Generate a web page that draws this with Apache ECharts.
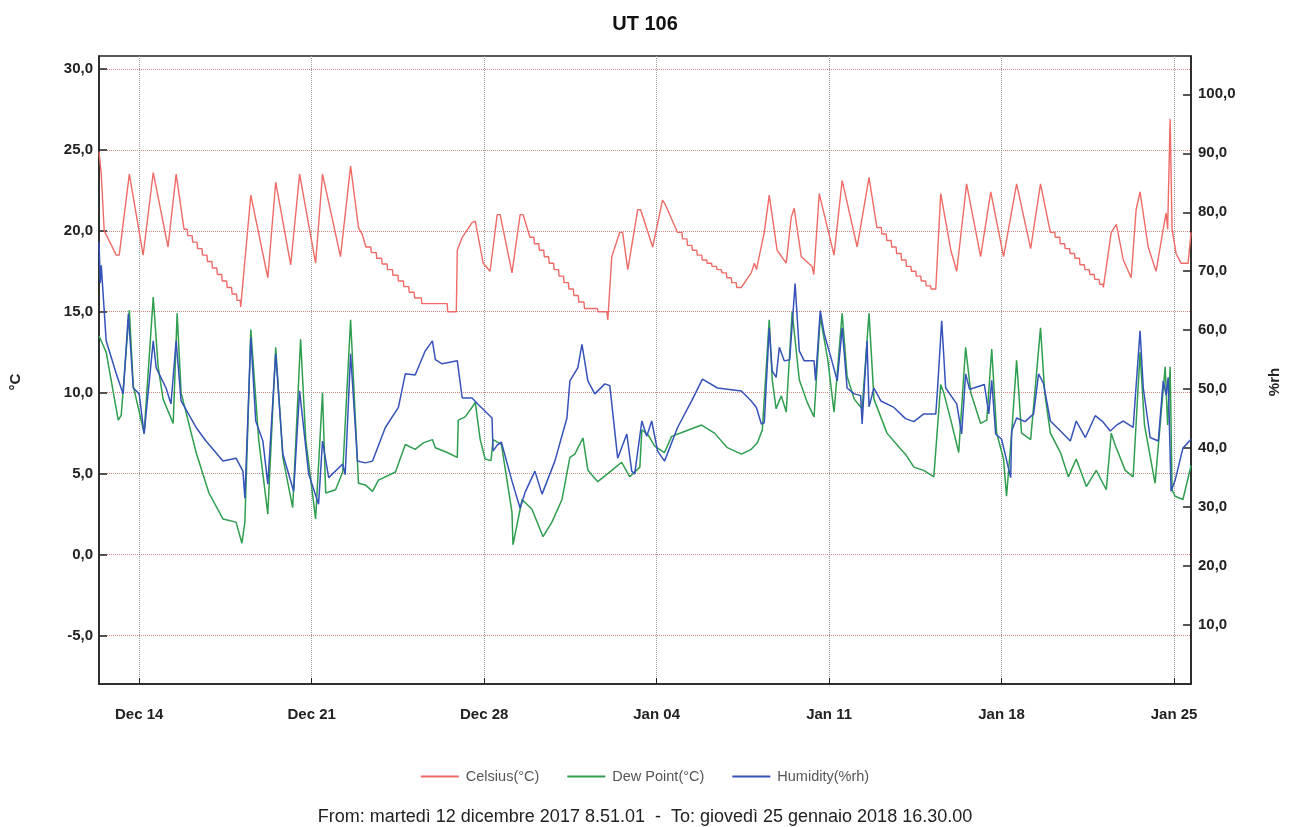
<!DOCTYPE html>
<html>
<head>
<meta charset="utf-8">
<script src="https://cdn.jsdelivr.net/npm/echarts@6/dist/echarts.min.js"></script>
<style>
html,body{margin:0;padding:0;background:#fff;}
#chart{width:1290px;height:827px;}
</style>
</head>
<body>
<div id="chart"></div>
<script>
// Time origin: 2017-12-12 00:00 ; times given in days from that midnight
const DAY0 = Date.UTC(2017, 11, 12);
const START = Date.UTC(2017, 11, 12, 8, 51, 1);
const END = Date.UTC(2018, 0, 25, 16, 30, 0);

const chartTitle = 'UT 106';
const footerText = 'From: martedì 12 dicembre 2017 8.51.01  -  To: giovedì 25 gennaio 2018 16.30.00';
const seriesNames = ['Celsius(°C)', 'Dew Point(°C)', 'Humidity(%rh)'];
const weekTicks = ['2017-12-14', '2017-12-21', '2017-12-28', '2018-01-04', '2018-01-11', '2018-01-18', '2018-01-25'];
const tempTicks = [-5, 0, 5, 10, 15, 20, 25, 30];
const rhTicks = [10, 20, 30, 40, 50, 60, 70, 80, 90, 100];
const monthNames = ['Jan','Feb','Mar','Apr','May','Jun','Jul','Aug','Sep','Oct','Nov','Dec'];

const celsius = [[0.37,24.9],[0.46,23.5],[0.58,20.0],[1.07,18.5],[1.19,18.5],[1.60,23.5],[2.16,18.5],[2.57,23.6],[3.17,19.0],[3.50,23.5],[3.82,20.1],
[3.95,20.1],[3.97,19.7],[4.15,19.7],[4.17,19.3],[4.35,19.3],[4.37,18.9],[4.55,18.9],[4.57,18.5],[4.75,18.5],[4.77,18.1],[4.95,18.1],[4.97,17.7],[5.15,17.7],[5.17,17.3],[5.35,17.3],[5.37,16.9],[5.55,16.9],[5.57,16.5],[5.75,16.5],[5.77,16.1],[5.95,16.1],[5.97,15.7],[6.10,15.7],[6.12,15.3],[6.17,15.3],
[6.53,22.2],[7.22,17.1],[7.54,23.0],[8.15,17.9],[8.51,23.5],[9.16,18.0],[9.44,23.5],[10.17,18.4],[10.58,24.0],[10.90,20.2],[11.05,19.8],[11.20,19.0],
[11.40,19.0],[11.42,18.65],[11.62,18.65],[11.64,18.3],[11.84,18.3],[11.86,17.95],[12.06,17.95],[12.08,17.6],[12.28,17.6],[12.30,17.25],[12.50,17.25],[12.52,16.9],[12.72,16.9],[12.74,16.55],[12.94,16.55],[12.96,16.2],[13.16,16.2],[13.18,15.85],[13.45,15.85],[13.47,15.5],[14.50,15.5],[14.52,15.0],[14.87,15.0],
[14.91,18.8],[15.11,19.6],[15.51,20.5],[15.64,20.6],[15.96,18.0],[16.24,17.5],[16.53,21.0],[16.65,21.0],[17.13,17.4],[17.46,21.0],[17.58,21.0],[17.86,19.6],
[18.02,19.6],[18.04,19.2],[18.22,19.2],[18.24,18.8],[18.42,18.8],[18.44,18.4],[18.62,18.4],[18.64,18.0],[18.82,18.0],[18.84,17.6],[19.02,17.6],[19.04,17.2],[19.22,17.2],[19.24,16.8],[19.42,16.8],[19.44,16.4],[19.62,16.4],[19.64,16.0],[19.82,16.0],[19.84,15.6],[20.05,15.6],[20.07,15.2],[20.60,15.2],[20.62,15.0],[20.98,15.0],[21.02,14.5],
[21.18,18.4],[21.50,19.9],[21.62,19.9],[21.83,17.6],[22.23,21.3],[22.35,21.3],[22.84,19.0],[23.24,21.9],[23.36,21.6],[23.85,19.9],
[24.03,19.9],[24.05,19.5],[24.23,19.5],[24.25,19.1],[24.43,19.1],[24.45,18.8],[24.63,18.8],[24.65,18.5],[24.83,18.5],[24.85,18.2],[25.03,18.2],[25.05,18.0],[25.23,18.0],[25.25,17.8],[25.43,17.8],[25.45,17.6],[25.63,17.6],[25.65,17.4],[25.83,17.4],[25.85,17.1],[26.03,17.1],[26.05,16.8],[26.23,16.8],[26.25,16.5],[26.44,16.5],
[26.84,17.4],[26.97,18.0],[27.05,17.6],[27.37,19.9],[27.57,22.2],[27.89,18.8],[28.26,18.0],[28.46,20.8],[28.58,21.4],[28.87,18.4],[29.31,17.8],[29.38,17.3],[29.60,22.3],[30.20,18.5],[30.53,23.1],[31.14,19.0],[31.62,23.3],[31.94,20.2],
[32.12,20.2],[32.14,19.8],[32.32,19.8],[32.34,19.4],[32.52,19.4],[32.54,19.0],[32.72,19.0],[32.74,18.6],[32.92,18.6],[32.94,18.2],[33.12,18.2],[33.14,17.8],[33.32,17.8],[33.34,17.5],[33.52,17.5],[33.54,17.2],[33.72,17.2],[33.74,16.9],[33.92,16.9],[33.94,16.6],[34.12,16.6],[34.14,16.4],[34.33,16.4],
[34.53,22.3],[34.60,22.3],[34.94,18.8],[35.18,17.5],[35.58,22.9],[36.15,18.4],[36.56,22.4],[37.08,18.4],[37.61,22.9],[38.18,18.9],[38.58,22.9],[38.98,19.9],
[39.16,19.9],[39.18,19.6],[39.36,19.6],[39.38,19.2],[39.56,19.2],[39.58,18.9],[39.76,18.9],[39.78,18.6],[39.96,18.6],[39.98,18.3],[40.16,18.3],[40.18,17.9],[40.36,17.9],[40.38,17.6],[40.56,17.6],[40.58,17.3],[40.76,17.3],[40.78,17.0],[40.96,17.0],[40.98,16.7],[41.11,16.7],[41.13,16.5],
[41.45,19.9],[41.66,20.4],[41.94,18.2],[42.26,17.1],[42.46,21.3],[42.62,22.4],[42.95,19.0],[43.27,17.5],[43.56,20.1],[43.68,21.1],[43.74,20.1],[43.84,26.9],[43.88,27.0],[43.92,20.1],[44.08,18.6],[44.28,18.0],[44.57,18.0],[44.69,19.9]];

const dewPoint = [[0.37,13.5],[0.66,12.5],[1.15,8.3],[1.27,8.6],[1.60,15.1],[1.76,10.4],[2.20,7.5],[2.57,15.9],[2.77,11.6],[2.97,9.6],[3.38,8.1],[3.54,14.9],[3.70,10.0],[4.31,6.3],[4.83,3.8],[5.40,2.2],[5.93,2.0],[6.17,0.7],[6.29,2.0],[6.53,13.9],[6.85,7.1],[7.22,2.5],[7.54,12.8],[7.83,6.0],[8.23,2.9],[8.55,13.3],[8.76,7.1],[9.16,2.2],[9.44,10.0],[9.57,3.8],[9.97,4.0],[10.26,5.1],[10.58,14.5],[10.90,4.4],[11.18,4.3],[11.47,3.9],[11.71,4.6],[12.40,5.1],[12.80,6.8],[13.20,6.5],[13.53,6.9],[13.90,7.1],[14.02,6.6],[14.50,6.3],[14.91,6.0],[14.95,8.3],[15.23,8.5],[15.51,9.1],[15.64,9.4],[15.84,7.1],[16.04,5.9],[16.28,5.8],[16.36,7.1],[16.70,6.8],[17.13,2.6],[17.17,0.6],[17.54,3.4],[17.94,2.8],[18.39,1.1],[18.75,2.0],[19.16,3.4],[19.48,6.0],[19.68,6.2],[20.01,7.2],[20.21,5.2],[20.61,4.5],[21.18,5.2],[21.58,5.7],[21.91,4.8],[22.32,5.4],[22.40,7.7],[22.65,7.4],[22.92,6.7],[23.32,6.3],[23.61,7.3],[24.13,7.6],[24.82,8.0],[25.35,7.5],[25.87,6.6],[26.44,6.2],[26.84,6.5],[27.09,6.9],[27.29,7.7],[27.57,14.5],[27.69,10.8],[27.85,9.0],[28.06,9.8],[28.26,8.8],[28.50,15.0],[28.79,10.8],[29.11,9.4],[29.39,8.5],[29.64,14.7],[29.95,12.0],[30.20,8.8],[30.53,14.9],[30.73,11.0],[31.02,9.6],[31.34,9.0],[31.62,14.9],[31.82,9.6],[32.35,7.5],[32.91,6.5],[33.10,6.2],[33.44,5.4],[33.84,5.2],[34.25,4.8],[34.33,4.9],[34.53,10.5],[34.65,10.0],[34.94,8.3],[35.26,6.3],[35.54,12.8],[35.75,10.0],[36.15,8.1],[36.40,8.3],[36.60,12.7],[36.80,7.5],[37.08,5.9],[37.20,3.6],[37.41,7.5],[37.61,12.0],[37.81,7.5],[38.18,7.1],[38.58,14.0],[38.75,10.0],[38.98,7.5],[39.39,6.3],[39.71,4.8],[40.03,5.9],[40.44,4.2],[40.84,5.2],[41.25,4.0],[41.45,7.5],[41.60,6.8],[42.02,5.2],[42.34,4.8],[42.62,12.5],[42.80,8.0],[43.23,4.4],[43.64,11.6],[43.74,8.0],[43.84,11.6],[43.92,4.0],[44.04,3.6],[44.36,3.4],[44.69,5.5]];

const humidity = [[0.37,75.0],[0.42,68.0],[0.46,71.0],[0.66,58.2],[1.07,52.6],[1.35,49.2],[1.56,62.8],[1.76,50.2],[2.00,49.2],[2.20,42.4],[2.57,58.2],[2.69,53.6],[3.09,50.2],[3.29,47.5],[3.50,58.2],[3.70,48.0],[4.31,43.5],[4.71,41.2],[5.40,37.8],[5.93,38.3],[6.21,36.1],[6.29,31.5],[6.53,58.8],[6.73,44.6],[7.02,41.2],[7.22,33.9],[7.54,56.0],[7.83,39.0],[8.27,32.7],[8.51,49.7],[8.88,35.6],[9.28,30.5],[9.44,41.2],[9.69,35.0],[10.26,37.3],[10.36,35.5],[10.58,56.0],[10.86,37.8],[11.18,37.5],[11.47,37.8],[11.99,43.5],[12.52,46.9],[12.80,52.6],[13.20,52.4],[13.61,56.5],[13.90,58.2],[14.02,55.0],[14.30,54.3],[14.91,54.8],[15.11,48.5],[15.51,48.5],[15.76,47.4],[16.32,45.1],[16.36,39.5],[16.53,40.5],[16.70,41.0],[17.13,34.4],[17.46,29.8],[17.66,32.5],[18.06,36.1],[18.35,32.2],[18.87,37.8],[19.36,45.1],[19.48,51.4],[19.80,53.6],[19.97,57.6],[20.21,51.4],[20.49,49.2],[20.90,50.9],[21.10,50.6],[21.42,38.3],[21.79,42.4],[21.99,36.1],[22.11,35.6],[22.40,44.6],[22.60,42.0],[22.80,44.6],[23.04,39.5],[23.32,37.8],[23.85,43.5],[24.42,48.0],[24.86,51.7],[25.47,50.2],[26.44,49.7],[26.84,48.0],[27.05,46.9],[27.25,44.1],[27.37,44.3],[27.57,60.4],[27.69,53.1],[27.85,52.0],[27.98,57.1],[28.18,54.8],[28.40,55.0],[28.62,67.9],[28.79,56.5],[28.99,54.8],[29.39,54.8],[29.45,51.5],[29.64,63.3],[29.80,59.4],[30.08,55.3],[30.33,51.4],[30.53,60.4],[30.73,50.2],[31.02,49.2],[31.28,48.9],[31.34,44.1],[31.54,58.2],[31.62,47.0],[31.82,50.2],[32.10,48.0],[32.63,46.9],[33.10,45.0],[33.44,44.5],[33.84,45.8],[34.33,45.8],[34.40,50.0],[34.57,61.6],[34.73,50.2],[35.18,47.5],[35.38,42.4],[35.54,52.6],[35.70,50.0],[35.87,50.2],[36.30,50.8],[36.48,45.8],[36.60,51.5],[36.76,42.4],[37.00,41.5],[37.37,35.0],[37.41,42.9],[37.61,45.1],[37.95,44.5],[38.30,45.8],[38.50,52.6],[38.70,51.0],[38.98,44.6],[39.39,42.9],[39.79,41.2],[40.03,44.6],[40.40,41.8],[40.80,45.5],[41.10,44.5],[41.41,42.9],[41.70,44.0],[41.94,44.6],[42.34,43.5],[42.62,59.9],[42.75,50.2],[43.03,41.8],[43.36,41.2],[43.56,51.4],[43.68,49.0],[43.76,52.0],[43.88,32.7],[44.04,34.5],[44.36,40.0],[44.69,41.5]];

const DAY_MS = 86400000;
function toSeries(arr) { return arr.map(p => [DAY0 + p[0] * DAY_MS, p[1]]); }
function parseDay(s) { const a = s.split('-').map(Number); return Date.UTC(a[0], a[1] - 1, a[2]); }
const weekTickValues = weekTicks.map(parseDay);
function fmtNum(v) { return Number(v).toFixed(1).replace('.', ','); }
function fmtDate(v) { const d = new Date(Number(v)); const dd = d.getUTCDate(); return monthNames[d.getUTCMonth()] + ' ' + (dd < 10 ? '0' + dd : dd); }

const FONT = '"Liberation Sans", Arial, sans-serif';
const chart = echarts.init(document.getElementById('chart'));
chart.setOption({
  animation: false,
  backgroundColor: '#fff',
  title: [
    { text: chartTitle, left: 'center', top: 9, textStyle: { fontFamily: FONT, fontSize: 20, fontWeight: 'bold', color: '#111' } },
    { text: footerText, left: 'center', top: 803, textStyle: { fontFamily: FONT, fontSize: 18, fontWeight: 'normal', color: '#222' } }
  ],
  legend: {
    data: seriesNames,
    top: 764,
    left: 'center',
    icon: 'rect',
    itemWidth: 38,
    itemHeight: 2,
    itemGap: 28,
    textStyle: { fontFamily: FONT, fontSize: 14.5, color: '#555', padding: [0, 0, 0, 2] }
  },
  grid: { left: 98, right: 97, top: 56, bottom: 143, show: true, borderColor: '#222', borderWidth: 1.5, containLabel: false },
  xAxis: {
    type: 'value',
    min: START,
    max: END,
    axisLine: { show: true, onZero: false, lineStyle: { color: '#222', width: 1.5 } },
    axisTick: { show: true, inside: true, length: 6, lineStyle: { color: '#222' }, customValues: weekTickValues },
    axisLabel: {
      customValues: weekTickValues,
      margin: 23,
      fontFamily: FONT, fontSize: 15, fontWeight: 'bold', color: '#222',
      formatter: fmtDate
    },
    splitLine: { show: true, lineStyle: { color: '#9a9a9a', type: 'dotted', width: 1 } }
  },
  yAxis: [
    {
      type: 'value',
      min: -8,
      max: 30.8,
      splitNumber: 8,
      name: '°C',
      nameLocation: 'middle',
      nameGap: 76,
      nameRotate: 90,
      nameTextStyle: { fontFamily: FONT, fontSize: 15, fontWeight: 'bold', color: '#222', padding: [0, 24, 0, 0] },
      axisLine: { show: true, onZero: false, lineStyle: { color: '#222', width: 1.5 } },
      axisTick: { show: true, inside: true, length: 8, lineStyle: { color: '#222', width: 1.5 }, customValues: tempTicks },
      axisLabel: { customValues: tempTicks, margin: 6, fontFamily: FONT, fontSize: 15, fontWeight: 'bold', color: '#222', formatter: fmtNum },
      splitLine: { show: true, lineStyle: { color: '#e08585', type: 'dotted', width: 1 } }
    },
    {
      type: 'value',
      min: 0,
      max: 106.5,
      position: 'right',
      name: '%rh',
      nameLocation: 'middle',
      nameGap: 76,
      nameRotate: 90,
      nameTextStyle: { fontFamily: FONT, fontSize: 15, fontWeight: 'bold', color: '#222', padding: [0, 24, 0, 0] },
      axisLine: { show: true, onZero: false, lineStyle: { color: '#222', width: 1.5 } },
      axisTick: { show: true, inside: true, length: 8, lineStyle: { color: '#222', width: 1.5 }, customValues: rhTicks },
      axisLabel: { customValues: rhTicks, margin: 7, fontFamily: FONT, fontSize: 15, fontWeight: 'bold', color: '#222', formatter: fmtNum },
      splitLine: { show: false }
    }
  ],
  series: [
    { name: seriesNames[0], type: 'line', yAxisIndex: 0, showSymbol: false, symbol: 'none', data: toSeries(celsius), lineStyle: { color: '#ee6b66', width: 1.4 }, itemStyle: { color: '#ee6b66' }, z: 3 },
    { name: seriesNames[1], type: 'line', yAxisIndex: 0, showSymbol: false, symbol: 'none', data: toSeries(dewPoint), lineStyle: { color: '#2f9e4f', width: 1.5 }, itemStyle: { color: '#2f9e4f' }, z: 3 },
    { name: seriesNames[2], type: 'line', yAxisIndex: 1, showSymbol: false, symbol: 'none', data: toSeries(humidity), lineStyle: { color: '#3553b8', width: 1.5 }, itemStyle: { color: '#3553b8' }, z: 4 }
  ]
});
</script>
</body>
</html>
